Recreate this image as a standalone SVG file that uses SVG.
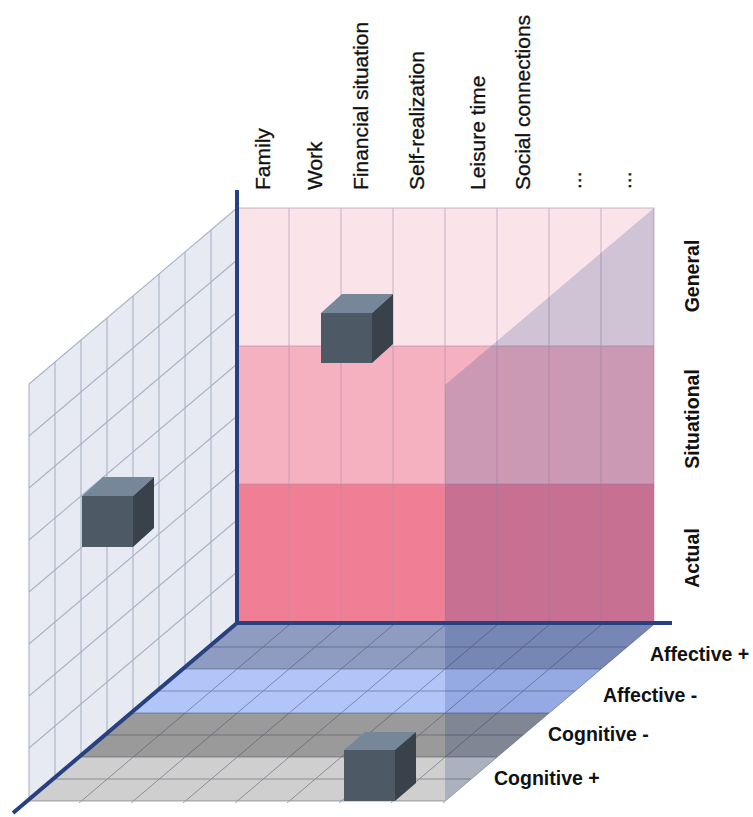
<svg xmlns="http://www.w3.org/2000/svg" width="753" height="817" viewBox="0 0 753 817">
  <style>
    .wallgrid { stroke: #a98ea7; stroke-width: 1; fill: none; opacity: 0.6; }
    .sidegrid { stroke: #aab2c3; stroke-width: 1.1; fill: none; }
    .floorgrid { stroke: #3c4256; stroke-width: 1; fill: none; opacity: 0.45; }
    .axis { stroke: #27407f; stroke-width: 4; fill: none; stroke-linecap: butt; }
    .cube-top { fill: #758799; }
    .cube-front { fill: #4d5965; }
    .cube-side { fill: #39424b; }
    .toplabel { font-family: "Liberation Sans", Arial, sans-serif; font-size: 21px; fill: #111; stroke: #111; stroke-width: 0.3; }
    .sidelabel { font-family: "Liberation Sans", Arial, sans-serif; font-weight: 700; font-size: 19.5px; fill: #111; }
  </style>

  <!-- left wall: 8 x 8 slanted grid -->
  <g id="left-wall">
    <polygon points="29,384 237,208 237,625 29,801" fill="#e7eaf3"/>
    <g class="sidegrid">
      <line x1="29" y1="384" x2="29" y2="801"/>
      <line x1="55" y1="362" x2="55" y2="779"/>
      <line x1="81" y1="340" x2="81" y2="757"/>
      <line x1="107" y1="318" x2="107" y2="735"/>
      <line x1="133" y1="296" x2="133" y2="713"/>
      <line x1="159" y1="274" x2="159" y2="691"/>
      <line x1="185" y1="252" x2="185" y2="669"/>
      <line x1="211" y1="230" x2="211" y2="647"/>
      <line x1="29" y1="384" x2="237" y2="208"/>
      <line x1="29" y1="436" x2="237" y2="260"/>
      <line x1="29" y1="488" x2="237" y2="312"/>
      <line x1="29" y1="540" x2="237" y2="364"/>
      <line x1="29" y1="592" x2="237" y2="416"/>
      <line x1="29" y1="644" x2="237" y2="468"/>
      <line x1="29" y1="696" x2="237" y2="520"/>
      <line x1="29" y1="748" x2="237" y2="572"/>
    </g>
  </g>

  <!-- back wall: General / Situational / Actual rows -->
  <g id="back-wall">
    <rect x="237" y="208" width="417" height="138" fill="#fae4ea"/>
    <rect x="237" y="346" width="417" height="138" fill="#f5b1bf"/>
    <rect x="237" y="484" width="417" height="139" fill="#f07f95"/>
    <g class="wallgrid">
      <rect x="237" y="208" width="417" height="415"/>
      <line x1="237" y1="346" x2="654" y2="346"/>
      <line x1="237" y1="484" x2="654" y2="484"/>
      <line x1="289" y1="208" x2="289" y2="623"/>
      <line x1="341" y1="208" x2="341" y2="623"/>
      <line x1="393" y1="208" x2="393" y2="623"/>
      <line x1="445" y1="208" x2="445" y2="623"/>
      <line x1="497" y1="208" x2="497" y2="623"/>
      <line x1="549" y1="208" x2="549" y2="623"/>
      <line x1="601" y1="208" x2="601" y2="623"/>
    </g>
  </g>

  <!-- floor: four bands, two sub-rows each -->
  <g id="floor">
    <polygon points="237,625 653,625 601,669 185,669" fill="#8e9cc1"/>
    <polygon points="185,669 601,669 549,713 133,713" fill="#b2c5f8"/>
    <polygon points="133,713 549,713 497,757 81,757" fill="#9a9a9a"/>
    <polygon points="81,757 497,757 445,801 29,801" fill="#cfcfcf"/>
    <g class="floorgrid">
      <line x1="211" y1="647" x2="627" y2="647"/>
      <line x1="185" y1="669" x2="601" y2="669"/>
      <line x1="159" y1="691" x2="575" y2="691"/>
      <line x1="133" y1="713" x2="549" y2="713"/>
      <line x1="107" y1="735" x2="523" y2="735"/>
      <line x1="81" y1="757" x2="497" y2="757"/>
      <line x1="55" y1="779" x2="471" y2="779"/>
      <line x1="29" y1="801" x2="445" y2="801"/>
      <line x1="289" y1="625" x2="79" y2="803"/>
      <line x1="341" y1="625" x2="131" y2="803"/>
      <line x1="393" y1="625" x2="183" y2="803"/>
      <line x1="445" y1="625" x2="235" y2="803"/>
      <line x1="497" y1="625" x2="287" y2="803"/>
      <line x1="549" y1="625" x2="339" y2="803"/>
      <line x1="601" y1="625" x2="391" y2="803"/>
      <line x1="653" y1="625" x2="443" y2="803"/>
    </g>
  </g>

  <!-- cubes -->
  <g id="cube-wall">
    <polygon class="cube-top" points="321,313 342,294 393,294 372,313"/>
    <rect class="cube-front" x="321" y="313" width="51" height="50"/>
    <polygon class="cube-side" points="372,313 393,294 393,344 372,363"/>
  </g>
  <g id="cube-left">
    <polygon class="cube-top" points="82,496 103,477 154,477 133,496"/>
    <rect class="cube-front" x="82" y="496" width="51" height="51"/>
    <polygon class="cube-side" points="133,496 154,477 154,528 133,547"/>
  </g>
  <g id="cube-floor">
    <polygon class="cube-top" points="344,750 365,732 416,732 395,750"/>
    <rect class="cube-front" x="344" y="750" width="51" height="51"/>
    <polygon class="cube-side" points="395,750 416,732 416,783 395,801"/>
  </g>

  <!-- translucent slice through the right-hand columns -->
  <g id="slice">
    <polygon points="654,208 445,385 445,801 654,625" fill="#0e2f80" fill-opacity="0.18"/>
  </g>

  <!-- axes -->
  <g id="connectors">
    <polyline class="axis" points="237,190 237,623 672,623"/>
    <line class="axis" x1="237" y1="623" x2="13" y2="813"/>
  </g>

  <!-- column labels -->
  <g id="column-labels" class="toplabel">
    <text transform="translate(270,190) rotate(-90)">Family</text>
    <text transform="translate(322,190) rotate(-90)">Work</text>
    <text transform="translate(368,190) rotate(-90)">Financial situation</text>
    <text transform="translate(424,190) rotate(-90)">Self-realization</text>
    <text transform="translate(485,190) rotate(-90)">Leisure time</text>
    <text transform="translate(530,190) rotate(-90)">Social connections</text>
    <text transform="translate(581,189) rotate(-90)">...</text>
    <text transform="translate(631,189) rotate(-90)">...</text>
  </g>

  <!-- row labels -->
  <g id="row-labels" class="sidelabel" text-anchor="middle">
    <text transform="translate(699,276) rotate(-90)">General</text>
    <text transform="translate(699,419) rotate(-90)">Situational</text>
    <text transform="translate(699,558) rotate(-90)">Actual</text>
  </g>

  <!-- floor band labels -->
  <g id="band-labels" class="sidelabel">
    <text x="650" y="661">Affective +</text>
    <text x="603" y="702">Affective -</text>
    <text x="548" y="741">Cognitive -</text>
    <text x="494" y="785">Cognitive +</text>
  </g>
</svg>
